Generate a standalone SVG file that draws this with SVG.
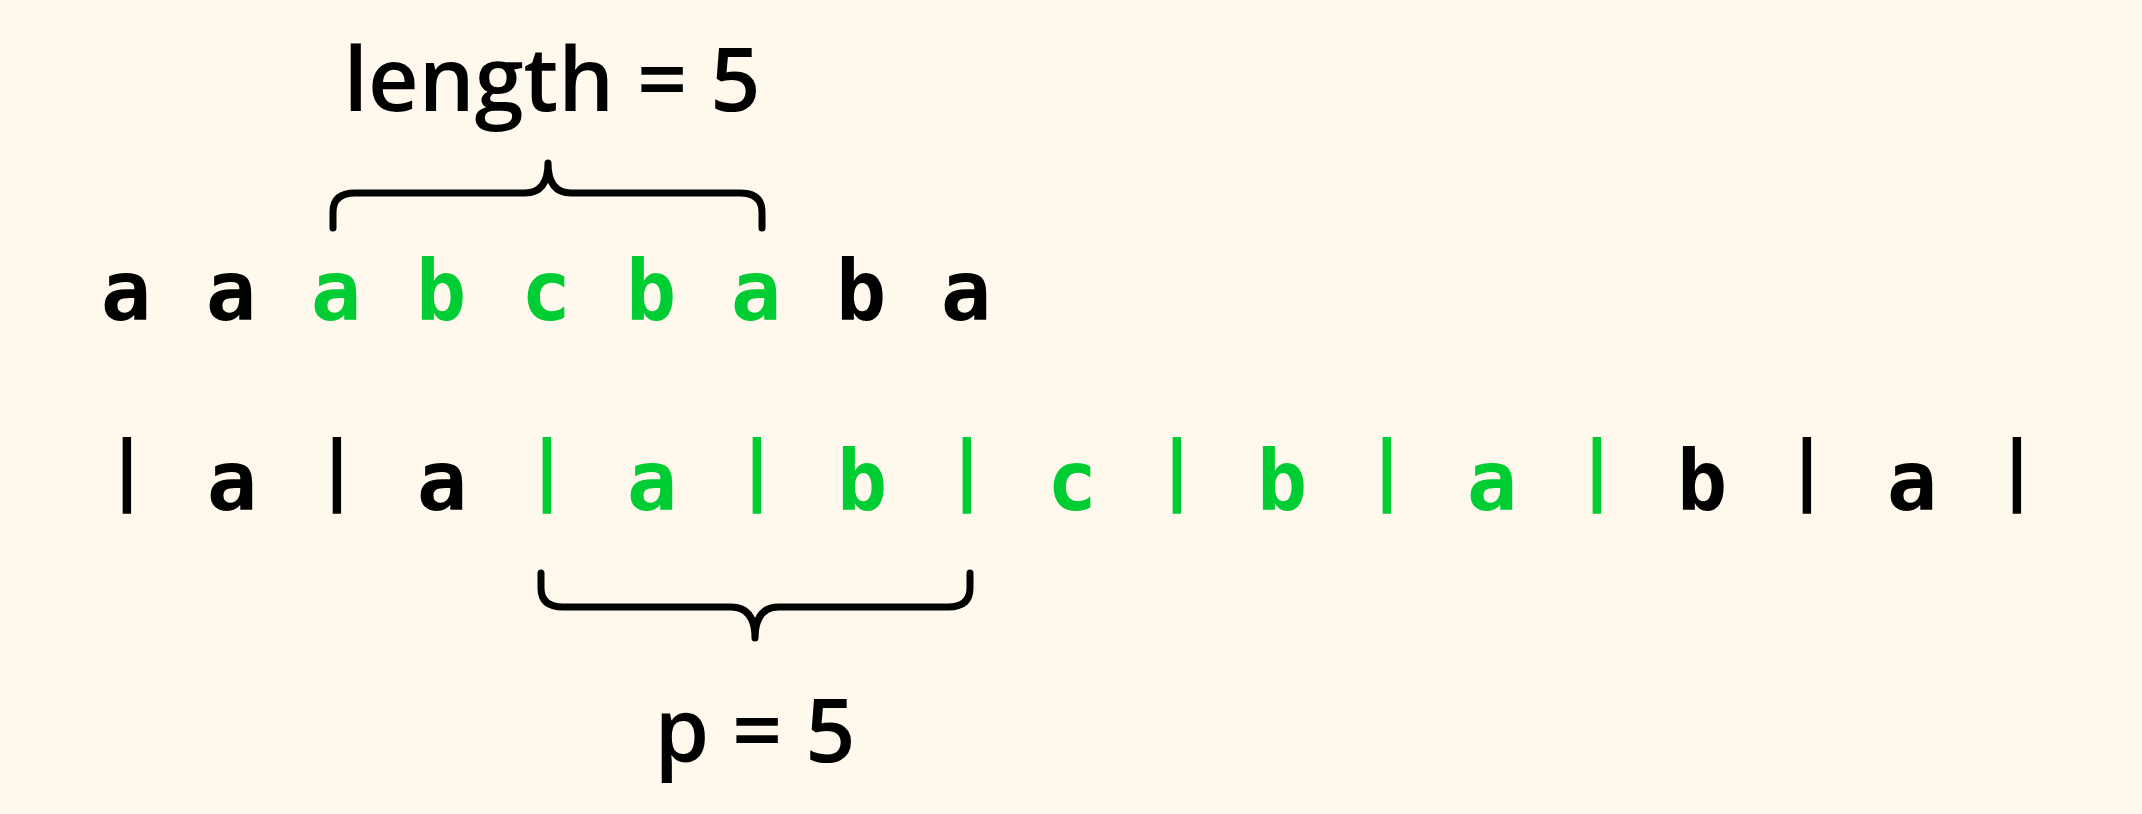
<svg xmlns="http://www.w3.org/2000/svg" width="2142" height="814" viewBox="0 0 2142 814">
<style>
.lab{font-family:"Open Sans",Lato,"DejaVu Sans",sans-serif;font-weight:600;font-size:88px;fill:#000;text-anchor:middle}
.ch{font-family:"DejaVu Sans Mono","Liberation Mono",monospace;font-weight:bold;font-size:84px;text-anchor:middle}
.bar{font-family:"DejaVu Sans","Liberation Sans",sans-serif;font-weight:bold;font-size:76px;text-anchor:middle}
.k{fill:#000}
.g{fill:#00CC33}
.brace{fill:none;stroke:#000;stroke-width:7;stroke-linecap:round;stroke-linejoin:round}
</style>
<rect width="2142" height="814" fill="#FEF9EC"/>
<g id="label-length"><text class="lab" x="552" y="111">length = 5</text></g>
<g id="label-p"><text class="lab" x="755" y="762">p = 5</text></g>
<g id="row1">
<text class="ch k" x="126" y="320">a</text>
<text class="ch k" x="231" y="320">a</text>
<text class="ch g" x="336" y="320">a</text>
<text class="ch g" x="441" y="320">b</text>
<text class="ch g" x="546" y="320">c</text>
<text class="ch g" x="651" y="320">b</text>
<text class="ch g" x="756" y="320">a</text>
<text class="ch k" x="861" y="320">b</text>
<text class="ch k" x="966" y="320">a</text>
</g>
<g id="row2">
<text class="bar k" x="127" y="495">|</text>
<text class="ch k" x="232" y="510">a</text>
<text class="bar k" x="337" y="495">|</text>
<text class="ch k" x="442" y="510">a</text>
<text class="bar g" x="547" y="495">|</text>
<text class="ch g" x="652" y="510">a</text>
<text class="bar g" x="757" y="495">|</text>
<text class="ch g" x="862" y="510">b</text>
<text class="bar g" x="967" y="495">|</text>
<text class="ch g" x="1072" y="510">c</text>
<text class="bar g" x="1177" y="495">|</text>
<text class="ch g" x="1282" y="510">b</text>
<text class="bar g" x="1387" y="495">|</text>
<text class="ch g" x="1492" y="510">a</text>
<text class="bar g" x="1597" y="495">|</text>
<text class="ch k" x="1702" y="510">b</text>
<text class="bar k" x="1807" y="495">|</text>
<text class="ch k" x="1912" y="510">a</text>
<text class="bar k" x="2017" y="495">|</text>
</g>
<g id="connectors">
<path id="brace-top" class="brace" d="M333 228 V212 Q333 193 355 193 H525 Q548 193 548 163 Q548 193 571 193 H740 Q762 193 762 212 V228"/>
<path id="brace-bottom" class="brace" d="M541 573 V588 Q541 607 563 607 H731 Q755 607 755 638 Q755 607 779 607 H948 Q970 607 970 588 V573"/>
</g>
</svg>
